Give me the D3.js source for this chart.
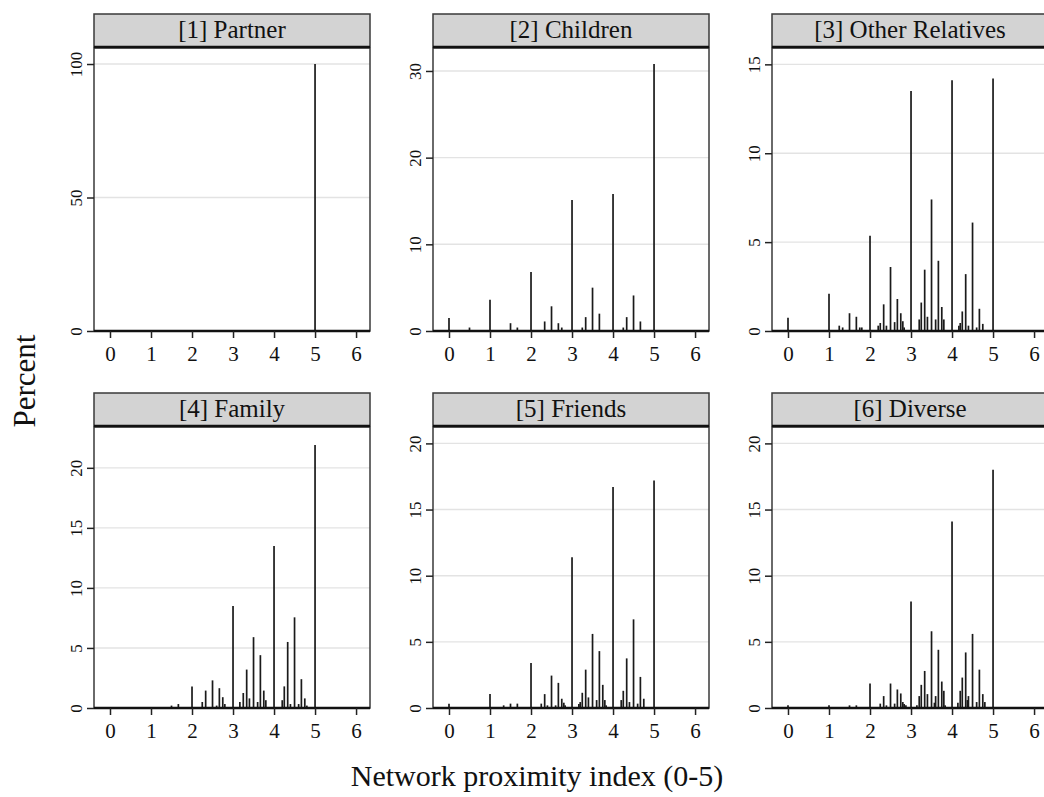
<!DOCTYPE html>
<html><head><meta charset="utf-8">
<script src="https://cdn.jsdelivr.net/npm/d3@7"></script>
<style>body{margin:0;background:#fff}svg{display:block}text{font-family:"Liberation Serif","Times New Roman",serif;fill:#111}</style>
</head><body><svg id="c" width="1044" height="797"></svg>
<script>
// ---- data ----
const panelTitles = ["[1] Partner","[2] Children","[3] Other Relatives","[4] Family","[5] Friends","[6] Diverse"];
const xTicks = [0,1,2,3,4,5,6];
const yTicksP1 = [0,50,100];
const yTicksP2 = [0,10,20,30];
const yTicksP3 = [0,5,10,15];
const yTicksP456 = [0,5,10,15,20];
const yMax = [106, 32.65, 15.92, 23.4, 21.24, 21.24];

const partnerX = [5];
const partnerPct = [100];

const childrenX   = [0,0.5,1,1.5,1.667,2,2.333,2.5,2.667,2.75,3,3.25,3.333,3.5,3.667,4,4.25,4.333,4.5,4.667,5];
const childrenPct = [1.5,0.4,3.6,0.9,0.4,6.8,1.1,2.85,0.9,0.4,15.1,0.4,1.6,5.0,2.0,15.8,0.4,1.6,4.1,1.1,30.8];

const relativesX   = [0,1,1.25,1.333,1.5,1.667,1.75,1.8,2,2.2,2.25,2.333,2.4,2.5,2.6,2.667,2.75,2.8,2.833,3,3.2,3.25,3.333,3.4,3.5,3.6,3.667,3.75,3.8,4,4.167,4.2,4.25,4.333,4.4,4.5,4.6,4.667,4.75,5];
const relativesPct = [0.75,2.1,0.3,0.2,1.0,0.8,0.2,0.2,5.36,0.3,0.45,1.5,0.3,3.6,0.5,1.8,1.0,0.55,0.2,13.5,0.65,1.6,3.45,0.8,7.4,0.65,3.95,1.35,0.65,14.1,0.3,0.45,1.1,3.2,0.3,6.1,0.2,1.25,0.4,14.2];

const familyX   = [1.5,1.667,2,2.25,2.333,2.5,2.6,2.667,2.75,2.8,3,3.167,3.25,3.333,3.4,3.5,3.6,3.667,3.75,3.8,4,4.2,4.25,4.333,4.4,4.5,4.6,4.667,4.75,4.8,5];
const familyPct = [0.2,0.33,1.8,0.5,1.45,2.3,0.2,1.65,0.9,0.33,8.5,0.5,1.25,3.2,0.8,5.9,0.5,4.4,1.45,0.65,13.5,0.65,1.8,5.5,0.33,7.55,0.33,2.4,0.8,0.2,21.9];

const friendsX   = [0,1,1.333,1.5,1.667,2,2.25,2.333,2.4,2.5,2.6,2.667,2.75,2.8,2.833,3,3.167,3.2,3.25,3.333,3.4,3.5,3.6,3.667,3.75,3.8,3.833,4,4.2,4.25,4.333,4.4,4.5,4.6,4.667,4.75,5];
const friendsPct = [0.33,1.05,0.2,0.33,0.33,3.4,0.33,1.05,0.2,2.45,0.2,1.9,0.7,0.4,0.2,11.4,0.3,0.45,1.15,2.9,0.8,5.6,0.6,4.3,1.75,0.6,0.2,16.7,0.6,1.3,3.75,0.45,6.7,0.33,2.35,0.7,17.2];

const diverseX   = [0,1,1.5,1.667,2,2.25,2.333,2.4,2.5,2.6,2.667,2.75,2.8,2.833,2.875,3,3.143,3.2,3.25,3.333,3.4,3.5,3.571,3.6,3.667,3.75,3.8,3.833,4,4.143,4.2,4.25,4.333,4.375,4.4,4.5,4.6,4.667,4.75,4.8,5];
const diversePct = [0.2,0.2,0.2,0.2,1.85,0.33,0.9,0.2,1.85,0.33,1.4,1.1,0.45,0.3,0.2,8.05,0.2,0.9,1.75,2.8,1.05,5.8,0.4,0.9,4.4,2.0,1.3,0.2,14.1,0.4,1.3,2.3,4.2,0.6,0.9,5.6,0.45,2.9,1.05,0.45,18.0];

const seriesX = [partnerX, childrenX, relativesX, familyX, friendsX, diverseX];
const seriesY = [partnerPct, childrenPct, relativesPct, familyPct, friendsPct, diversePct];
const yTickSets = [yTicksP1, yTicksP2, yTicksP3, yTicksP456, yTicksP456, yTicksP456];

// ---- layout ----
const svg = d3.select("#c");
const colLeft = [94, 433, 772];
const plotW = 276;
const rowHeaderTop = [14, 393];
const rowPlotTop = [48, 427];
const rowPlotBottom = [331, 708];
const xDomain = [-0.39, 6.34];
const serif = '"Liberation Serif","Times New Roman",serif';

panelTitles.forEach((title, i) => {
  const col = i % 3, row = Math.floor(i / 3);
  const x0 = colLeft[col], x1 = x0 + plotW;
  const top = rowPlotTop[row], bot = rowPlotBottom[row];
  const x = d3.scaleLinear().domain(xDomain).range([x0, x1]);
  const y = d3.scaleLinear().domain([0, yMax[i]]).range([bot, top]);
  const g = svg.append("g");

  // gridlines
  g.selectAll(".grid").data(yTickSets[i].filter(d => d > 0)).enter().append("line")
    .attr("x1", x0).attr("x2", x1).attr("y1", d => y(d)).attr("y2", d => y(d))
    .attr("stroke", "#e3e3e3").attr("stroke-width", 1.4);

  // spikes
  const pts = seriesX[i].map((v, k) => [v, seriesY[i][k]]);
  g.selectAll(".spike").data(pts).enter().append("line")
    .attr("x1", d => x(d[0])).attr("x2", d => x(d[0]))
    .attr("y1", y(0)).attr("y2", d => y(d[1]))
    .attr("stroke", "#1a1a1a").attr("stroke-width", 1.7);

  // frame
  g.append("rect").attr("x", x0).attr("y", top).attr("width", plotW).attr("height", bot - top)
    .attr("fill", "none").attr("stroke", "#3a3a3a").attr("stroke-width", 1.5);
  // baseline
  g.append("line").attr("x1", x0).attr("x2", x1).attr("y1", y(0)).attr("y2", y(0))
    .attr("stroke", "#111").attr("stroke-width", 2.6);

  // header strip
  const ht = rowHeaderTop[row];
  g.append("rect").attr("x", x0).attr("y", ht).attr("width", plotW).attr("height", top - ht - 1)
    .attr("fill", "#d3d3d3").attr("stroke", "#3a3a3a").attr("stroke-width", 1.5);
  g.append("line").attr("x1", x0).attr("x2", x1).attr("y1", top - 1).attr("y2", top - 1)
    .attr("stroke", "#111").attr("stroke-width", 2.6);
  g.append("text").attr("x", x0 + plotW / 2).attr("y", ht + 24).attr("text-anchor", "middle")
    .style("font-family", serif).style("font-size", "25px").text(title);

  // x axis
  const xa = g.append("g").attr("transform", `translate(0,${bot})`)
    .call(d3.axisBottom(x).tickValues(xTicks).tickSize(7).tickPadding(8).tickFormat(d3.format("d")));
  xa.attr("font-family", null).attr("font-size", null);
  xa.select(".domain").remove();
  xa.selectAll(".tick line").attr("stroke", "#222").attr("stroke-width", 1.5);
  xa.selectAll(".tick text").style("font-size", "21px").style("font-family", serif).attr("fill", "#111");

  // y axis
  const ya = g.append("g").attr("transform", `translate(${x0},0)`)
    .call(d3.axisLeft(y).tickValues(yTickSets[i]).tickSize(7).tickFormat(d3.format("d")));
  ya.attr("font-family", null).attr("font-size", null);
  ya.select(".domain").remove();
  ya.selectAll(".tick line").attr("stroke", "#222").attr("stroke-width", 1.5);
  ya.selectAll(".tick text").attr("x", null).attr("dy", null)
    .attr("transform", "translate(-12,0) rotate(-90)").attr("text-anchor", "middle")
    .style("font-size", "17px").style("font-family", serif).attr("fill", "#111");
});

// axis titles
svg.append("text").attr("x", 537).attr("y", 786).attr("text-anchor", "middle")
  .style("font-family", serif).style("font-size", "30px").text("Network proximity index (0-5)");
svg.append("text").attr("transform", "translate(35,381) rotate(-90)").attr("text-anchor", "middle")
  .style("font-family", serif).style("font-size", "31px").text("Percent");
</script></body></html>
